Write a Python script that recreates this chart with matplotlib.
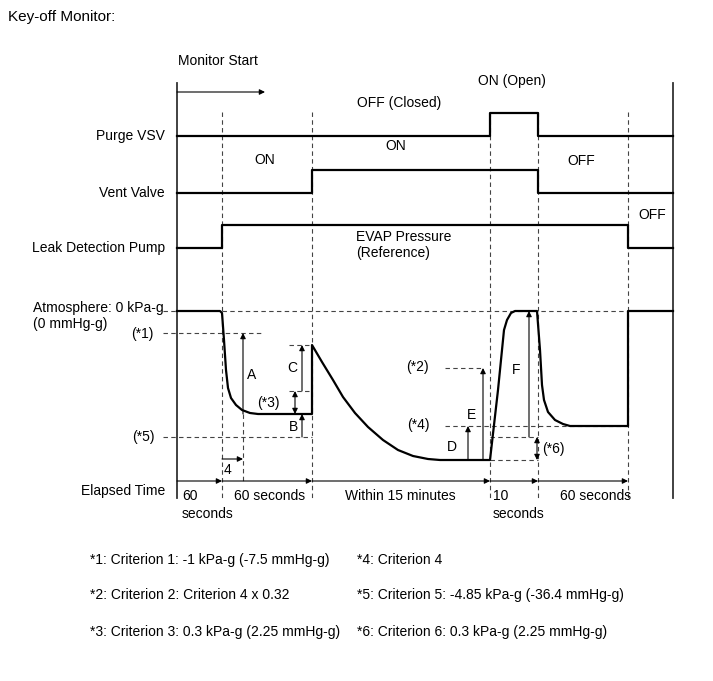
import matplotlib.pyplot as plt

plt.rcParams['font.family'] = ['Liberation Sans', 'DejaVu Sans']

# time axis: phase boundaries (drawing units)
phase_edges = [177, 222, 312, 490, 538, 628, 673]
phase_texts = ['60\nseconds', '60 seconds', 'Within 15 minutes', '10\nseconds', '60 seconds']

# on/off state of each signal per phase
signal_names = ['Purge VSV', 'Vent Valve', 'Leak Detection Pump']
signal_base = [136, 193, 248]
signal_high = 23
vsv_state = [0, 0, 0, 1, 0, 0]
vent_state = [0, 0, 1, 1, 0, 0]
pump_state = [0, 1, 1, 1, 1, 0]

# EVAP pressure trace
press_x = [177, 220, 222, 224, 226, 228, 231, 236, 242, 250, 258, 312, 312,
           322, 333, 343, 355, 368, 383, 398, 413, 428, 440, 490,
           494, 498, 502, 504, 507, 511, 515, 537,
           540, 542, 544, 548, 555, 563, 570, 628, 628, 673]
press_y = [311, 311, 313, 340, 370, 388, 398, 405, 410, 413, 414, 414, 345,
           362, 380, 397, 413, 427, 440, 450, 456, 459, 460, 460,
           425, 390, 350, 330, 320, 313, 311, 311,
           350, 385, 400, 412, 420, 424, 426, 426, 311, 311]

# reference levels
atm_level = 311
crit1_level = 333
crit5_level = 437
crit2_level = 368
crit4_level = 426

footnotes_left = ['*1: Criterion 1: -1 kPa-g (-7.5 mmHg-g)',
                  '*2: Criterion 2: Criterion 4 x 0.32',
                  '*3: Criterion 3: 0.3 kPa-g (2.25 mmHg-g)']
footnotes_right = ['*4: Criterion 4',
                   '*5: Criterion 5: -4.85 kPa-g (-36.4 mmHg-g)',
                   '*6: Criterion 6: 0.3 kPa-g (2.25 mmHg-g)']
foot_rows = [560, 595, 632]

FS = 10
fig = plt.figure(figsize=(7.13, 6.81), dpi=100)
ax = fig.add_axes([0, 0, 1, 1])
ax.set_xlim(0, 713)
ax.set_ylim(681, 0)
ax.axis('off')

dash = dict(color='#444444', lw=0.8, ls=(0, (4, 3)))
thick = dict(color='black', lw=1.6, solid_joinstyle='round')


def arrow(x0, y0, x1, y1, style='-|>'):
    ax.annotate('', xy=(x1, y1), xytext=(x0, y0),
                arrowprops=dict(arrowstyle=style, lw=0.8, color='black',
                                mutation_scale=8, shrinkA=0, shrinkB=0))


# frame lines
ax.plot([phase_edges[0]] * 2, [83, 498], color='#333333', lw=1.3)
ax.plot([phase_edges[-1]] * 2, [83, 498], color='#333333', lw=1.3)
for x in phase_edges[1:-1]:
    ax.plot([x, x], [112, 500], **dash)

# step signals
for name, base, state in zip(signal_names, signal_base, [vsv_state, vent_state, pump_state]):
    xs, ys = [], []
    for i, s in enumerate(state):
        lvl = base - signal_high * s
        xs += [phase_edges[i], phase_edges[i + 1]]
        ys += [lvl, lvl]
    ax.plot(xs, ys, **thick)
    ax.text(165, base, name, ha='right', va='center', fontsize=FS)

# pressure reference dashed lines
ax.plot([163, 177], [atm_level] * 2, **dash)
ax.plot([222, 628], [atm_level] * 2, **dash)
ax.plot([163, 262], [crit1_level] * 2, **dash)
ax.plot([163, 312], [crit5_level] * 2, **dash)
ax.plot([289, 312], [345, 345], **dash)
ax.plot([289, 312], [391, 391], **dash)
ax.plot([445, 483], [crit2_level] * 2, **dash)
ax.plot([445, 628], [crit4_level] * 2, **dash)
ax.plot([490, 538], [437, 437], **dash)
ax.plot([490, 538], [460, 460], **dash)
ax.plot([243, 243], [414, 481], **dash)

ax.plot(press_x, press_y, **thick)

# measurement arrows
arrow(243, 414, 243, crit1_level)
arrow(302, 391, 302, 345)
arrow(295, 391, 295, 414, '<|-|>')
arrow(302, crit5_level, 302, 414)
arrow(222, 459, 243, 459)
arrow(468, 460, 468, crit4_level)
arrow(483, 460, 483, crit2_level)
arrow(529, 437, 529, atm_level)
arrow(537, 437, 537, 460, '<|-|>')
arrow(177, 92, 265, 92)

# elapsed time axis
for a, b in zip(phase_edges[:-2], phase_edges[1:-1]):
    arrow(a, 481, b, 481)
text_x = [182, 234, 400, 493, 560]
for x, t in zip(text_x, phase_texts):
    ha = 'center' if t.startswith('Within') else 'left'
    ax.text(x, 489, t, ha=ha, va='top', fontsize=FS, linespacing=1.35)

# labels
ax.text(8, 17, 'Key-off Monitor:', ha='left', va='center', fontsize=11)
ax.text(178, 61, 'Monitor Start', ha='left', va='center', fontsize=FS)
ax.text(399, 103, 'OFF (Closed)', ha='center', va='center', fontsize=FS)
ax.text(512, 81, 'ON (Open)', ha='center', va='center', fontsize=FS)
ax.text(265, 160, 'ON', ha='center', va='center', fontsize=FS)
ax.text(396, 146, 'ON', ha='center', va='center', fontsize=FS)
ax.text(581, 161, 'OFF', ha='center', va='center', fontsize=FS)
ax.text(652, 215, 'OFF', ha='center', va='center', fontsize=FS)
ax.text(356, 245, 'EVAP Pressure\n(Reference)', ha='left', va='center', fontsize=FS)
ax.text(33, 308, 'Atmosphere: 0 kPa-g', ha='left', va='center', fontsize=FS)
ax.text(33, 324, '(0 mmHg-g)', ha='left', va='center', fontsize=FS)
ax.text(154, crit1_level + 1, '(*1)', ha='right', va='center', fontsize=FS)
ax.text(155, crit5_level, '(*5)', ha='right', va='center', fontsize=FS)
ax.text(165, 491, 'Elapsed Time', ha='right', va='center', fontsize=FS)

for x, y, s in [(252, 375, 'A'), (292, 368, 'C'), (268, 403, '(*3)'), (293, 427, 'B'),
                (227, 470, '4'), (417, 367, '(*2)'), (418, 425, '(*4)'), (472, 415, 'E'),
                (452, 447, 'D'), (516, 370, 'F'), (553, 449, '(*6)')]:
    ax.text(x, y, s, ha='center', va='center', fontsize=FS)

for y, l, r in zip(foot_rows, footnotes_left, footnotes_right):
    ax.text(90, y, l, ha='left', va='center', fontsize=FS)
    ax.text(357, y, r, ha='left', va='center', fontsize=FS)

fig.savefig('out.png', dpi=100)
